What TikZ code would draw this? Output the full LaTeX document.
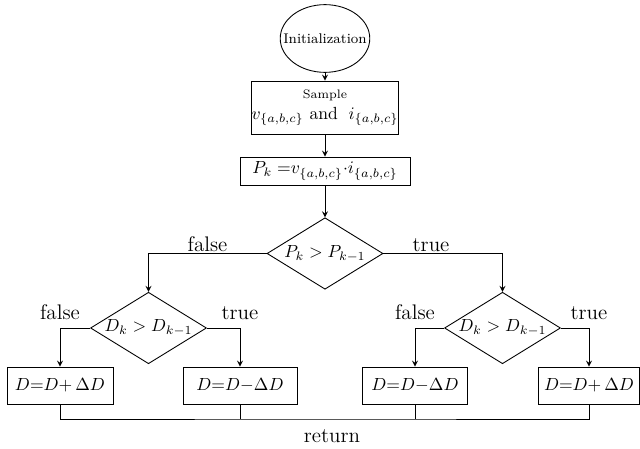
\documentclass[tikz,border=0pt]{standalone}
\usepackage{amsmath}
\usetikzlibrary{positioning}
\usetikzlibrary{shapes.geometric}

\begin{document}
\begin{tikzpicture}[x=0.02cm,y=-0.02cm,line width=0.5pt,>=stealth,
 procbox/.style={draw,rectangle,inner sep=0pt,minimum height=0.74cm},
 decision/.style={draw,diamond,inner sep=0pt,aspect=1.6,minimum width=2.32cm,minimum height=1.43cm},
 lbl/.style={font=\large,inner sep=1pt}]
 \useasboundingbox (0,0) rectangle (640,449);
 % top part
 \node[draw,ellipse,inner xsep=-0.2cm,inner ysep=0.38cm,font=\footnotesize] (init) at (325,38.5) {Initialization};
 \node[procbox,minimum width=2.72cm,minimum height=1.06cm,align=center] (sample) at (325,107.5) {{\scriptsize Sample}\\ $v_{\{a,b,c\}}$ and $\;i_{\{a,b,c\}}$};
 \node[procbox,minimum width=3.4cm,minimum height=0.56cm] (pk) at (325,171) {$P_k\;{=}v_{\{a,b,c\}}{\cdot}i_{\{a,b,c\}}$};
 \node[decision] (cmp) at (325,253.5) {$P_k>P_{k-1}$};
 % second level
 \node[decision] (dl) at (148.5,328) {$D_k>D_{k-1}$};
 \node[decision] (dr) at (502.5,328) {$D_k>D_{k-1}$};
 \node[procbox,minimum width=2.12cm] (b1) at (60,385.5) {$D{=}D{+}\,\Delta D$};
 \node[procbox,minimum width=2.28cm] (b2) at (240,385.5) {$D{=}D{-}\Delta D$};
 \node[procbox,minimum width=2.1cm] (b3) at (415,385.5) {$D{=}D{-}\Delta D$};
 \node[procbox,minimum width=2.02cm] (b4) at (589,385.5) {$D{=}D{+}\,\Delta D$};
 \draw[->] (init) -- (sample);
 \draw[->] (sample) -- (pk);
 \draw[->] (pk) -- (cmp);
 \draw[->] (cmp.west) -| node[lbl,above,pos=0.25] {false} (dl.north);
 \draw[->] (cmp.east) -| node[lbl,above,pos=0.2] {true} (dr.north);
 \draw[->] (dl.west) -| node[lbl,above=3.5pt] {false} (b1.north);
 \draw[->] (dl.east) -| node[lbl,above=3.5pt] {true} (b2.north);
 \draw[->] (dr.west) -| node[lbl,above=3.5pt] {false} (b3.north);
 \draw[->] (dr.east) -| node[lbl,above=3.5pt] {true} (b4.north);
 % return
 \coordinate (join) at (326,419);
 \draw (b1.south) |- (join) -| (b4.south);
 \draw (b2.south) -- (b2.south |- join);
 \draw (b3.south) -- (b3.south |- join);
 \node[lbl] (ret) at (332,436) {return};
\end{tikzpicture}
\end{document}
